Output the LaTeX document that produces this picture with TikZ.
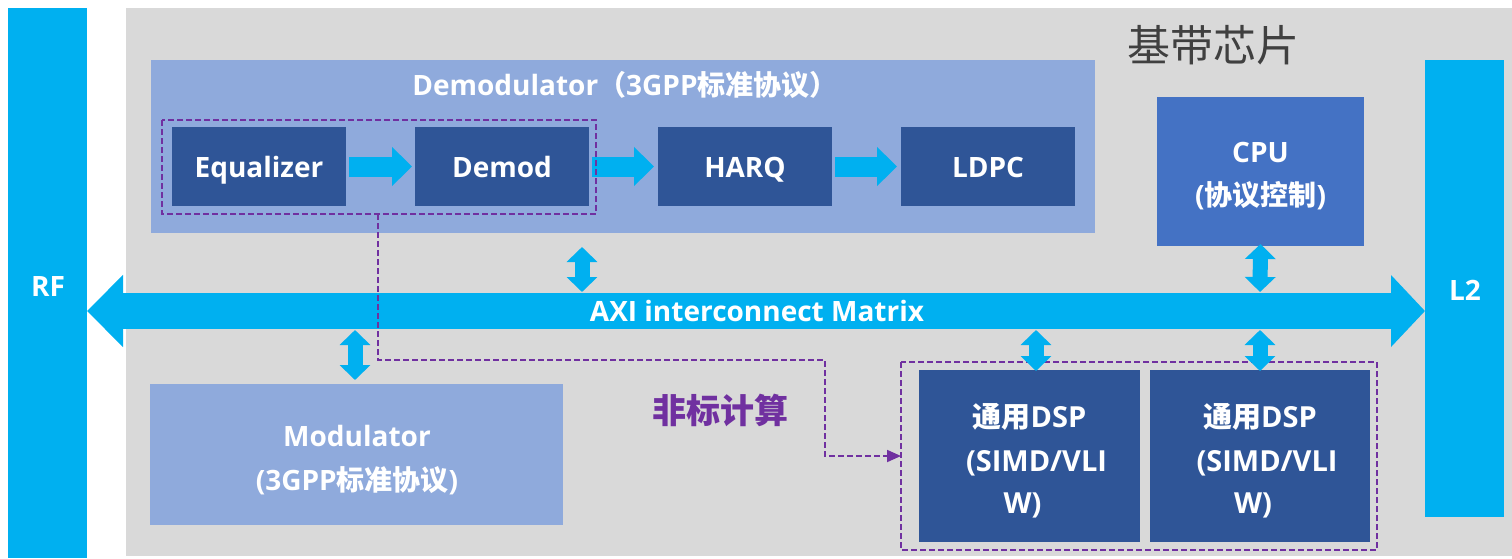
\documentclass[tikz,border=0pt]{standalone}
\usepackage{fontspec}
\setmainfont{Open Sans}
\newfontfamily\cjk{Noto Sans CJK SC}
\usetikzlibrary{arrows.meta,calc}
\definecolor{busblue}{HTML}{00B0F0}
\definecolor{chipgray}{HTML}{D9D9D9}
\definecolor{lightblk}{HTML}{8FAADC}
\definecolor{darkblk}{HTML}{2F5597}
\definecolor{cpublue}{HTML}{4472C4}
\definecolor{ctrlpurple}{HTML}{7030A0}
\definecolor{titlegray}{HTML}{404040}
\tikzset{
  blk/.style={rectangle, inner sep=0pt, outer sep=0pt},
  darkbox/.style={blk, fill=darkblk, minimum width=174pt, minimum height=79pt},
  dspbox/.style={blk, fill=darkblk, minimum height=172pt},
  sidebar/.style={blk, fill=busblue, minimum width=79pt},
  lbl/.style={inner sep=0pt, outer sep=0pt, anchor=base, text=white, font=\bfseries\fontsize{28}{32}\selectfont},
  dsplbl/.style={lbl, font=\bfseries\fontsize{29}{32}\selectfont},
  flow/.style={busblue, line width=20pt, -{Triangle[length=20pt,width=38pt]}},
  bus/.style={busblue, line width=36pt, {Triangle[length=36pt,width=70pt]}-{Triangle[length=34pt,width=70pt]}},
  link/.style={busblue, line width=15pt, {Triangle[length=15pt,width=30pt]}-{Triangle[length=15pt,width=30pt]}},
  group/.style={ctrlpurple, line width=1.8pt, dash pattern=on 6pt off 3pt},
}
\begin{document}
\begin{tikzpicture}[x=1pt, y=-1pt]
\useasboundingbox (0,0) rectangle (1512,558);

% chip background
\fill[chipgray] (126,8) rectangle (1512,556);
\node[anchor=center, text=titlegray, font=\cjk\fontsize{43}{48}\selectfont] (chip) at (1213,45) {基带芯片};

% side bars
\node[sidebar, minimum height=550pt] (rf) at (47.5,283) {};
\node[lbl] (rft) at (48,296) {RF};
\node[sidebar, minimum height=457pt] (l2) at (1464.5,288.5) {};
\node[lbl] (l2t) at (1465,300) {L2};

% demodulator chain
\node[blk, fill=lightblk, minimum width=944pt, minimum height=173pt] (demodc) at (623,146.5) {};
\node[lbl] (demodt) at (625,95) {Demodulator{\cjk（}3GPP{\cjk 标准协议）}};
\node[darkbox] (eq) at (259,166.5) {};
\node[darkbox] (dm) at (502,166.5) {};
\node[darkbox] (harq) at (745,166.5) {};
\node[darkbox] (ldpc) at (988,166.5) {};
\node[lbl] at ($(eq.center)+(0,10.5)$) {Equalizer};
\node[lbl] at ($(dm.center)+(0,10.5)$) {Demod};
\node[lbl] at ($(harq.center)+(0,10.5)$) {HARQ};
\node[lbl] at ($(ldpc.center)+(0,10.5)$) {LDPC};
\draw[flow] ([xshift=3pt]eq.east) -- ([xshift=-3pt]dm.west);
\draw[flow] ([xshift=3pt]dm.east) -- ([xshift=-4pt]harq.west);
\draw[flow] ([xshift=3pt]harq.east) -- ([xshift=-4pt]ldpc.west);
\draw[group] (162,120) rectangle (596,214);
\coordinate (grpout) at (378,214);

% cpu
\node[blk, fill=cpublue, minimum width=207pt, minimum height=149pt] (cpu) at (1260.5,171.5) {};
\node[lbl] at (1260.5,162) {CPU};
\node[lbl] at (1260.5,205) {({\cjk 协议控制})};

% modulator
\node[blk, fill=lightblk, minimum width=413pt, minimum height=141pt] (mod) at (356.5,454.5) {};
\node[lbl] at (357,446) {Modulator};
\node[lbl] at (357,490) {(3GPP{\cjk 标准协议})};

% general purpose DSPs
\node[dspbox, minimum width=221pt] (dsp1) at (1029.5,456) {};
\node[dspbox, minimum width=220pt] (dsp2) at (1260,456) {};
\foreach \d in {dsp1,dsp2} {
  \node[dsplbl] at ($(\d.center)+(0,-29)$) {{\cjk 通用}DSP};
  \node[dsplbl] at ($(\d.center)+(7,15)$) {(SIMD/VLI};
  \node[dsplbl] at ($(\d.center)+(-7,57)$) {W)};
}
\draw[group] (901,362) rectangle (1377,550);
\coordinate (grpin) at (901,456);

\node[text=ctrlpurple, font=\cjk\bfseries\fontsize{34}{40}\selectfont] (nonstd) at (720,410) {非标计算};

% interconnect bus
\coordinate (busl) at (rf.east |- 0,311);
\coordinate (busr) at (l2.west |- 0,311);
\draw[bus] (busl) -- (busr);
\node[lbl] (axi) at (757,321) {AXI interconnect Matrix};

% bus links
\draw[link] (582,247) -- (582,292);
\draw[link] (mod.north -| 355,0) ++(0,-4) -- (355,330);
\draw[link] ([yshift=2pt]cpu.south) -- (1260,292);
\draw[link] (1036,330) -- ([yshift=-1pt]dsp1.north -| 1036,0);
\draw[link] (1260,330) -- ([yshift=-1pt]dsp2.north);

% offload path to the DSP cluster
\draw[group, -{Triangle[length=14pt,width=12pt]}] (grpout) -- (378,360) -- (825,360) -- (825,456) -- (grpin);
\end{tikzpicture}
\end{document}
